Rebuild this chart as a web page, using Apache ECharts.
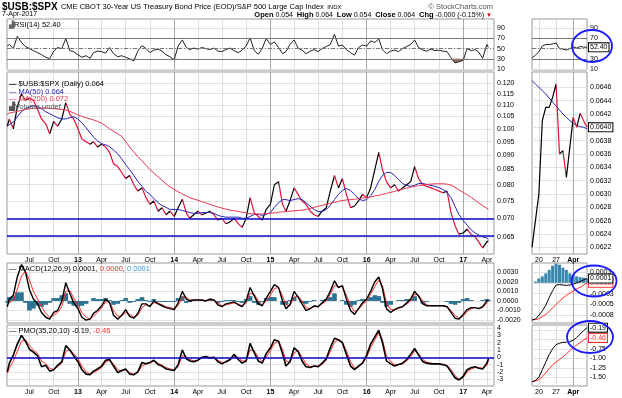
<!DOCTYPE html>
<html>
<head>
<meta charset="utf-8">
<title>$USB:$SPX</title>
<style>
  * { margin: 0; padding: 0; }
  body { background: #fff; }
  #main { width: 622px; height: 398px; }
</style>
</head>
<body>
<div id="main"></div>
<script src="https://cdn.jsdelivr.net/npm/echarts@6/dist/echarts.min.js"></script>
<script>
// sample dates: 1st and 16th of each month (Apr 2012 .. Apr 7 2017)
var dates = ['2012-04-08', '2012-04-16'];
for (var y = 2012; y <= 2017; y++) {
  for (var m = 1; m <= 12; m++) {
    if (y === 2012 && m < 5) continue;
    if (y === 2017 && m > 3) break;
    var mm = (m < 10 ? '0' : '') + m;
    dates.push(y + '-' + mm + '-01', y + '-' + mm + '-16');
  }
}
dates.push('2017-04-01', '2017-04-07');

// $USB:$SPX ratio
var price = [
  0.101, 0.104, 0.100, 0.109, 0.115, 0.112, 0.113, 0.112, 0.108, 0.104, 0.102, 0.098, 0.103, 0.101, 0.104, 0.111, 0.106, 0.104,
  0.100, 0.096, 0.095, 0.094, 0.095, 0.093, 0.094, 0.093, 0.091, 0.087, 0.086, 0.084, 0.082, 0.083, 0.080, 0.078, 0.079, 0.076, 0.074, 0.075, 0.072, 0.073, 0.071, 0.072,
  0.0705, 0.073, 0.0755, 0.0715, 0.070, 0.071, 0.072, 0.071, 0.0715, 0.072, 0.071, 0.0695, 0.070, 0.0685, 0.069, 0.070, 0.0685, 0.0675, 0.070, 0.076, 0.0715, 0.0705, 0.0695, 0.0725,
  0.074, 0.080, 0.081, 0.074, 0.072, 0.075, 0.079, 0.077, 0.075, 0.074, 0.072, 0.071, 0.0705, 0.072, 0.073, 0.078, 0.083, 0.079, 0.082, 0.077, 0.073, 0.0735, 0.075, 0.077,
  0.076, 0.079, 0.085, 0.091, 0.085, 0.081, 0.079, 0.080, 0.078, 0.079, 0.080, 0.081, 0.086, 0.082, 0.080, 0.0795, 0.079, 0.0785, 0.078, 0.0775, 0.078, 0.0715, 0.068, 0.0657,
  0.066, 0.067, 0.0655, 0.065, 0.0637, 0.0622, 0.0637, 0.0640
];
var ma50 = [
  0.1012, 0.1016, 0.1028, 0.1049, 0.1071, 0.1083, 0.1091, 0.1096, 0.1091, 0.1083, 0.1070, 0.1062, 0.1053, 0.1045, 0.1040, 0.1040, 0.1045, 0.1049,
  0.1040, 0.1024, 0.1004, 0.0984, 0.0968, 0.0953, 0.0942, 0.0938, 0.0931, 0.0919, 0.0905, 0.0887, 0.0867, 0.0850, 0.0830, 0.0811, 0.0795, 0.0779, 0.0770, 0.0757, 0.0745, 0.0736, 0.0731, 0.0725,
  0.0725, 0.0725, 0.0722, 0.0719, 0.0716, 0.0714, 0.0714, 0.0716, 0.0716, 0.0716, 0.0714, 0.0708, 0.0705, 0.0703, 0.0703, 0.0703, 0.0703, 0.0700, 0.0700, 0.0705, 0.0711, 0.0711, 0.0708, 0.0711,
  0.0716, 0.0731, 0.0745, 0.0754, 0.0754, 0.0751, 0.0754, 0.0757, 0.0754, 0.0745, 0.0734, 0.0725, 0.0719, 0.0719, 0.0725, 0.0737, 0.0754, 0.0770, 0.0782, 0.0788, 0.0782, 0.0770, 0.0757, 0.0751,
  0.0754, 0.0766, 0.0785, 0.0811, 0.0830, 0.0840, 0.0840, 0.0830, 0.0817, 0.0804, 0.0798, 0.0795, 0.0798, 0.0804, 0.0804, 0.0801, 0.0798, 0.0795, 0.0791, 0.0785, 0.0776, 0.0760, 0.0734, 0.0711,
  0.0694, 0.0681, 0.0668, 0.0660, 0.0655, 0.0650, 0.0647, 0.0644
];
var ma200 = [
  0.1060, 0.1065, 0.1068, 0.1072, 0.1076, 0.1080, 0.1083, 0.1085, 0.1086, 0.1087, 0.1086, 0.1085, 0.1084, 0.1082, 0.1080, 0.1078, 0.1072, 0.1065,
  0.1057, 0.1050, 0.1045, 0.1040, 0.1036, 0.1030, 0.1022, 0.1012, 0.1000, 0.0990, 0.0980, 0.0970, 0.0950, 0.0930, 0.0912, 0.0895, 0.0880, 0.0865, 0.0850, 0.0838, 0.0826, 0.0814, 0.0803, 0.0793,
  0.0785, 0.0778, 0.0771, 0.0765, 0.0760, 0.0756, 0.0752, 0.0748, 0.0744, 0.0740, 0.0736, 0.0732, 0.0729, 0.0726, 0.0723, 0.0721, 0.0719, 0.0717, 0.0715, 0.0713, 0.0712, 0.0712, 0.0712, 0.0713,
  0.0714, 0.0715, 0.0717, 0.0718, 0.0719, 0.0720, 0.0721, 0.0722, 0.0723, 0.0725, 0.0728, 0.0731, 0.0734, 0.0737, 0.0740, 0.0743, 0.0746, 0.0749, 0.0751, 0.0753, 0.0754, 0.0755, 0.0757, 0.0759,
  0.0760, 0.0762, 0.0765, 0.0767, 0.0770, 0.0773, 0.0776, 0.0779, 0.0783, 0.0786, 0.0789, 0.0792, 0.0795, 0.0797, 0.0799, 0.0801, 0.0802, 0.0803, 0.0803, 0.0803, 0.0802, 0.0799, 0.0792, 0.0784,
  0.0776, 0.0769, 0.0760, 0.0752, 0.0744, 0.0736, 0.0728, 0.0725
];
var rsi = [
  55, 58, 50, 74, 62, 54, 50, 46, 42, 38, 33, 30, 45, 52, 50, 70, 46, 44,
  38, 33, 36, 31, 42, 45, 44, 41, 52, 40, 34, 36, 33, 30, 26, 45, 56, 50, 42, 47, 49, 45, 38, 34,
  28, 55, 67, 52, 48, 51, 49, 52, 50, 48, 51, 45, 44, 48, 51, 46, 42, 47, 55, 71, 46, 39, 50, 70,
  58, 63, 52, 40, 44, 58, 67, 51, 47, 40, 45, 48, 44, 50, 54, 58, 78, 55, 57, 48, 42, 37, 52, 57,
  55, 65, 62, 69, 48, 40, 45, 47, 44, 50, 54, 58, 67, 52, 47, 45, 49, 46, 47, 45, 44, 32, 22, 24,
  27, 50, 46, 48, 43, 31, 58, 52.4
];
var macd = [
  -0.0006, 0.0002, 0.0006, 0.0025, 0.0038, 0.0030, 0.0012, 0.0002, -0.0003, -0.0012, -0.0017, -0.0019, -0.0012, -0.0010, 0.0000, 0.0019, 0.0008, -0.0002,
  -0.0008, -0.0017, -0.0020, -0.0019, -0.0013, -0.0010, -0.0005, 0.0002, -0.0002, -0.0015, -0.0019, -0.0015, -0.0009, -0.0016, -0.0018, -0.0013, -0.0003, -0.0003, -0.0006, 0.0000, -0.0003, -0.0005, -0.0007, -0.0008,
  -0.0009, -0.0002, 0.0010, 0.0002, 0.0000, 0.0001, 0.0001, 0.0001, 0.0000, 0.0002, 0.0001, -0.0004, -0.0006, -0.0003, -0.0002, -0.0001, -0.0004, -0.0006, 0.0000, 0.0014, 0.0005, -0.0003, -0.0005, 0.0003,
  0.0010, 0.0017, 0.0014, 0.0000, -0.0008, -0.0004, 0.0010, 0.0004, -0.0003, -0.0010, -0.0008, -0.0005, -0.0006, -0.0002, 0.0002, 0.0010, 0.0021, 0.0014, 0.0016, 0.0002, -0.0010, -0.0014, -0.0008, -0.0002,
  0.0002, 0.0010, 0.0020, 0.0025, 0.0013, -0.0008, -0.0012, -0.0009, -0.0007, -0.0006, -0.0002, 0.0002, 0.0010, 0.0005, -0.0003, -0.0005, -0.0005, -0.0005, -0.0005, -0.0005, -0.0006, -0.0012, -0.0018, -0.0019,
  -0.0014, -0.0009, -0.0007, -0.0007, -0.0008, -0.0006, 0.0000, 0.0001
];
var macdSignal = [
  -0.0004, -0.0002, 0.0001, 0.0012, 0.0026, 0.0031, 0.0022, 0.0010, 0.0002, -0.0006, -0.0013, -0.0017, -0.0015, -0.0012, -0.0006, 0.0010, 0.0011, 0.0003,
  -0.0004, -0.0012, -0.0017, -0.0019, -0.0016, -0.0012, -0.0007, -0.0001, -0.0001, -0.0010, -0.0016, -0.0016, -0.0012, -0.0014, -0.0017, -0.0015, -0.0007, -0.0004, -0.0005, -0.0002, -0.0002, -0.0004, -0.0006, -0.0007,
  -0.0008, -0.0005, 0.0004, 0.0004, 0.0001, 0.0001, 0.0001, 0.0001, 0.0000, 0.0001, 0.0001, -0.0002, -0.0005, -0.0004, -0.0003, -0.0002, -0.0003, -0.0005, -0.0002, 0.0008, 0.0007, 0.0000, -0.0004, 0.0000,
  0.0006, 0.0013, 0.0014, 0.0005, -0.0004, -0.0005, 0.0004, 0.0005, 0.0000, -0.0007, -0.0008, -0.0006, -0.0006, -0.0003, 0.0000, 0.0007, 0.0016, 0.0015, 0.0015, 0.0006, -0.0005, -0.0011, -0.0009, -0.0004,
  0.0000, 0.0007, 0.0015, 0.0022, 0.0016, -0.0002, -0.0009, -0.0009, -0.0008, -0.0006, -0.0003, 0.0000, 0.0007, 0.0006, 0.0000, -0.0004, -0.0005, -0.0005, -0.0005, -0.0005, -0.0006, -0.0010, -0.0015, -0.0018,
  -0.0016, -0.0011, -0.0008, -0.0007, -0.0008, -0.0007, -0.0002, 0.0000
];
var macdHist = [
  -0.0002, 0.0004, 0.0005, 0.0009, 0.0009, -0.0002, -0.0010, -0.0008, -0.0005, -0.0006, -0.0004, -0.0002, 0.0003, 0.0003, 0.0006, 0.0008, -0.0003, -0.0005,
  -0.0006, -0.0005, -0.0003, 0.0000, 0.0003, 0.0002, 0.0002, 0.0003, 0.0001, -0.0004, -0.0003, 0.0001, 0.0003, -0.0002, -0.0001, 0.0002, 0.0004, 0.0001, -0.0001, 0.0002, -0.0001, -0.0001, -0.0001, -0.0001,
  -0.0001, 0.0003, 0.0005, -0.0002, -0.0001, 0.0000, 0.0000, 0.0000, 0.0000, 0.0001, 0.0000, -0.0002, -0.0001, 0.0001, 0.0001, 0.0001, -0.0001, -0.0002, 0.0002, 0.0005, -0.0002, -0.0004, -0.0001, 0.0003,
  0.0004, 0.0004, 0.0000, -0.0004, -0.0004, 0.0001, 0.0004, 0.0000, -0.0002, -0.0003, -0.0001, 0.0001, 0.0000, 0.0001, 0.0002, 0.0004, 0.0008, 0.0000, 0.0001, -0.0004, -0.0006, -0.0004, 0.0001, 0.0002,
  0.0002, 0.0004, 0.0006, 0.0005, -0.0002, -0.0006, -0.0004, 0.0000, 0.0001, 0.0001, 0.0002, 0.0002, 0.0005, 0.0000, -0.0003, -0.0001, 0.0000, 0.0000, 0.0000, 0.0000, -0.0001, -0.0003, -0.0004, -0.0002,
  0.0002, 0.0003, 0.0001, 0.0000, 0.0000, 0.0001, 0.0002, 0.0001
];
var pmo = [
  -2.0, -0.8, 0.3, 1.8, 3.0, 2.2, 1.1, 0.7, 0.2, -1.3, -1.1, -1.9, -1.7, -1.1, -0.6, 1.6, 1.0, 0.2,
  -0.6, -1.7, -2.3, -2.4, -1.9, -1.6, -1.2, -0.4, -0.3, -1.2, -2.1, -1.8, -1.6, -2.3, -2.4, -2.0, -0.7, -0.9, -0.7, -0.4, -1.0, -1.2, -1.6, -1.7,
  -1.8, -1.0, 1.0, -0.2, -0.5, -0.6, -0.4, 0.0, 0.1, -0.1, 0.0, -0.6, -0.9, -0.6, -0.3, 0.4, -0.3, -0.8, -0.5, 1.9, 0.6, -0.5, -0.8, 0.5,
  1.3, 2.4, 2.2, 0.5, -1.2, -0.6, 1.3, 0.8, -0.5, -1.3, -1.4, -1.2, -1.3, -0.8, -0.2, 1.3, 2.6, 2.4, 2.0, 0.4, -1.2, -1.7, -1.2, -0.8,
  0.3, 1.8, 2.8, 3.7, 2.0, -0.5, -0.9, -1.2, -1.0, -0.8, -0.3, 0.4, 1.2, 0.3, -0.6, -0.8, -0.9, -0.9, -0.9, -1.0, -1.2, -2.0, -2.8, -3.1,
  -2.6, -1.7, -1.4, -1.3, -1.5, -1.6, -0.8, -0.19
];
var pmoSignal = [
  -2.2, -1.5, -0.5, 0.8, 2.2, 2.4, 1.6, 1.0, 0.5, -0.5, -0.9, -1.5, -1.7, -1.3, -0.8, 0.8, 1.1, 0.5,
  -0.2, -1.2, -2.0, -2.3, -2.1, -1.8, -1.4, -0.7, -0.4, -0.9, -1.7, -1.9, -1.7, -2.1, -2.3, -2.1, -1.2, -0.9, -0.8, -0.5, -0.8, -1.1, -1.4, -1.6,
  -1.7, -1.3, 0.2, 0.1, -0.3, -0.5, -0.4, -0.1, 0.0, 0.0, 0.0, -0.4, -0.7, -0.7, -0.4, 0.1, 0.0, -0.5, -0.5, 1.0, 0.9, 0.0, -0.6, 0.0,
  0.9, 1.9, 2.2, 1.1, -0.5, -0.7, 0.6, 0.9, 0.0, -0.9, -1.3, -1.2, -1.2, -1.0, -0.4, 0.8, 2.1, 2.4, 2.1, 0.9, -0.6, -1.5, -1.3, -0.9,
  0.0, 1.3, 2.4, 3.3, 2.4, 0.2, -0.6, -1.0, -1.0, -0.9, -0.5, 0.1, 0.9, 0.5, -0.3, -0.7, -0.8, -0.9, -0.9, -1.0, -1.1, -1.7, -2.5, -3.0,
  -2.8, -2.0, -1.6, -1.4, -1.4, -1.5, -1.1, -0.46
];

// last month, daily (right-hand panels)
var miniDates = ['3/16', '3/17', '3/20', '3/21', '3/22', '3/23', '3/24', '3/27', '3/28', '3/29', '3/30', '3/31', '4/3', '4/4', '4/5', '4/6', '4/7'];
var miniPrice = [0.0622, 0.0626, 0.0630, 0.0641, 0.0643, 0.0643, 0.06445, 0.06465, 0.0636, 0.06365, 0.06325, 0.0637, 0.06415, 0.0640, 0.06421, 0.0641, 0.0640];
var miniMa50 = [0.0647, 0.06465, 0.0646, 0.06455, 0.0645, 0.06444, 0.06438, 0.06432, 0.06426, 0.0642, 0.06415, 0.0641, 0.06406, 0.06403, 0.06401, 0.0640, 0.06398];
var miniRsi = [32, 37, 44, 55, 58, 58, 59, 61, 50, 49, 47, 50, 53, 51, 54, 53, 52.4];
var miniMacd = [-0.00086, -0.00084, -0.00075, -0.00065, -0.00052, -0.00034, -0.00018, -0.00005, -0.00004, -0.00005, -0.00006, -0.00005, -0.00003, 0.0, 0.00003, 0.00007, 0.0001];
var miniSignal = [-0.00086, -0.00085, -0.00083, -0.00078, -0.00073, -0.00066, -0.00058, -0.0005, -0.00042, -0.00035, -0.00029, -0.00024, -0.00019, -0.00014, -0.0001, -0.00005, 0.0];
var miniHist = [0.0, 0.00003, 0.0001, 0.00015, 0.00022, 0.0003, 0.0004, 0.00045, 0.00042, 0.00035, 0.0003, 0.00022, 0.00018, 0.00015, 0.00013, 0.00012, 0.0001];
var miniPmo = [-1.62, -1.58, -1.50, -1.30, -1.10, -0.90, -0.75, -0.64, -0.60, -0.58, -0.57, -0.56, -0.52, -0.45, -0.36, -0.27, -0.19];
var miniPmoSignal = [-1.62, -1.60, -1.56, -1.48, -1.38, -1.27, -1.17, -1.10, -1.03, -0.96, -0.88, -0.80, -0.72, -0.65, -0.58, -0.52, -0.46];

var priceTicks = [0.065, 0.070, 0.075, 0.080, 0.085, 0.090, 0.095, 0.100, 0.105, 0.110, 0.115, 0.120];
var miniPriceTicks = [0.0622, 0.0624, 0.0626, 0.0628, 0.0630, 0.0632, 0.0634, 0.0636, 0.0638, 0.0640, 0.0642, 0.0644, 0.0646];

var FONT = 'Liberation Sans, Arial, sans-serif';
var RED = '#e0103a';

function ts(s) {
  var p = s.split('-');
  return +new Date(+p[0], +p[1] - 1, +p[2]);
}
var times = dates.map(ts);
function zip(xs, vs, f) {
  return vs.map(function (v, i) { return [xs[i], f ? f(v) : v]; });
}
function downPieces(xs, vs) {
  var p = [];
  for (var i = 1; i < vs.length; i++) {
    if (vs[i] < vs[i - 1]) p.push({ gte: xs[i - 1], lte: xs[i], color: RED });
  }
  return p;
}

// quarterly ticks Jul 2012 .. Apr 2017
var qTicks = [];
for (var yy = 2012; yy <= 2017; yy++) {
  for (var mo = 0; mo < 12; mo += 3) {
    var t = +new Date(yy, mo, 1);
    if (t >= +new Date(2012, 6, 1) && t <= +new Date(2017, 3, 1)) qTicks.push(t);
  }
}

var chart = echarts.init(document.getElementById('main'));

var rows = [{ top: 19, h: 51 }, { top: 72, h: 182 }, { top: 263, h: 60 }, { top: 325, h: 61 }];
var grids = [];
rows.forEach(function (r) {
  grids.push({ left: 7, top: r.top, width: 487, height: r.h, show: true, borderColor: '#999', borderWidth: 1, backgroundColor: '#fff' });
});
rows.forEach(function (r) {
  grids.push({ left: 532, top: r.top, width: 55, height: r.h, show: true, borderColor: '#999', borderWidth: 1, backgroundColor: '#fff' });
});

function mainX(i, labels) {
  return {
    type: 'value', gridIndex: i,
    min: +new Date(2012, 3, 7), max: +new Date(2017, 3, 28),
    axisLine: { show: false },
    axisTick: { show: false, customValues: qTicks },
    axisLabel: {
      show: labels, customValues: qTicks, margin: 3, fontSize: 7, color: '#000', fontFamily: FONT,
      formatter: function (v) {
        var d = new Date(v);
        if (d.getMonth() === 0) return '{b|' + String(d.getFullYear()).slice(2) + '}';
        return { 3: 'Apr', 6: 'Jul', 9: 'Oct' }[d.getMonth()];
      },
      rich: { b: { fontWeight: 'bold', fontSize: 7, fontFamily: FONT } }
    },
    splitLine: { show: true, lineStyle: { color: ['#ddd', '#ddd', '#a8a8a8', '#ddd'], width: 1 } }
  };
}
function miniShow(idx) { return idx === 2 || idx === 7 || idx === 12; }
function miniX(i, labels) {
  return {
    type: 'category', gridIndex: i, data: miniDates, boundaryGap: false,
    axisLine: { show: false }, axisTick: { show: false },
    axisLabel: {
      show: labels, interval: miniShow, margin: 3, fontSize: 7, color: '#000', fontFamily: FONT,
      formatter: function (v, idx) {
        if (idx === 12) return '{b|Apr}';
        return v.split('/')[1];
      },
      rich: { b: { fontWeight: 'bold', fontSize: 7, fontFamily: FONT } }
    },
    splitLine: { show: true, interval: miniShow, lineStyle: { color: ['#ddd', '#ddd', '#a8a8a8'] } }
  };
}
function yAx(i, min, max, ticks, fmt) {
  return {
    type: 'value', gridIndex: i, position: 'right', min: min, max: max,
    axisLine: { show: false },
    axisTick: { show: false, customValues: ticks },
    axisLabel: { customValues: ticks, formatter: fmt, margin: 3, fontSize: 7, color: '#000', fontFamily: FONT },
    splitLine: { show: true, lineStyle: { color: '#e2e2e2', width: 1 } }
  };
}
function fmt4(v) {
  var a = Math.round(Math.abs(v) * 1e4 + 1e-9) / 1e4;
  return (v < -1e-12 ? '-' : '') + a.toFixed(4);
}
var rsiTicks = [10, 30, 50, 70, 90];
function rsiLines() {
  return {
    silent: true, symbol: 'none', label: { show: false }, animation: false,
    data: [
      { yAxis: 70, lineStyle: { color: '#777', type: 'solid', width: 1 } },
      { yAxis: 30, lineStyle: { color: '#777', type: 'solid', width: 1 } },
      { yAxis: 50, lineStyle: { color: '#777', type: [4, 2, 1, 2], width: 1 } }
    ]
  };
}
function endBox(text, color) {
  return {
    show: true, formatter: text, distance: 2, fontSize: 7, fontFamily: FONT, color: color,
    backgroundColor: '#fff', borderColor: color, borderWidth: 1, padding: [1, 1, 0, 1]
  };
}
var miniIdx = miniDates.map(function (d, i) { return i; });

var option = {
  animation: false,
  textStyle: { fontFamily: FONT },
  grid: grids,
  xAxis: [mainX(0, false), mainX(1, true), mainX(2, false), mainX(3, true),
          miniX(4, false), miniX(5, true), miniX(6, false), miniX(7, true)],
  yAxis: [
    yAx(0, 8, 108, rsiTicks, function (v) { return String(v); }),
    yAx(1, Math.log(0.0607), Math.log(0.1254), priceTicks.map(Math.log), function (v) { return Math.exp(v).toFixed(3); }),
    yAx(2, -0.0023, 0.00396, [-0.002, -0.001, 0, 0.001, 0.002, 0.003], fmt4),
    yAx(3, -3.93, 4.42, [-3, -2, -1, 0, 1, 2, 3, 4], function (v) { return String(v); }),
    yAx(4, 8, 108, rsiTicks, function (v) { return String(v); }),
    yAx(5, 0.0621, 0.06483, miniPriceTicks, function (v) { return v.toFixed(4); }),
    yAx(6, -0.00093, 0.00046, [-0.00075, -0.0005, -0.00025, 0, 0.00025], fmt4),
    yAx(7, -1.73, -0.12, [-1.5, -1.25, -1, -0.75, -0.5, -0.25], function (v) { return v.toFixed(2); })
  ],
  visualMap: [
    { type: 'piecewise', show: false, seriesIndex: 2, dimension: 0, pieces: downPieces(times, price), outOfRange: { color: '#000' } },
    { type: 'piecewise', show: false, seriesIndex: 11, dimension: 0, pieces: downPieces(miniIdx, miniPrice), outOfRange: { color: '#000' } }
  ],
  series: [
    // 0 RSI
    { type: 'line', xAxisIndex: 0, yAxisIndex: 0, data: zip(times, rsi), symbol: 'none', z: 3,
      lineStyle: { color: '#222', width: 1 }, markLine: rsiLines() },
    // 1 RSI oversold shading
    { type: 'line', xAxisIndex: 0, yAxisIndex: 0, data: zip(times, rsi, function (v) { return Math.min(v, 30); }),
      symbol: 'none', lineStyle: { width: 0 }, areaStyle: { origin: 30, color: '#9c5b4d', opacity: 0.9 } },
    // 2 price
    { type: 'line', xAxisIndex: 1, yAxisIndex: 1, data: zip(times, price, Math.log), symbol: 'none', z: 4,
      lineStyle: { width: 1.2 },
      markLine: { silent: true, symbol: 'none', label: { show: false }, animation: false,
        lineStyle: { color: '#0a0ac8', width: 1.5, type: 'solid' },
        data: [{ yAxis: Math.log(0.070) }, { yAxis: Math.log(0.065) }] } },
    // 3 MA50
    { type: 'line', xAxisIndex: 1, yAxisIndex: 1, data: zip(times, ma50, Math.log), symbol: 'none', z: 5,
      lineStyle: { color: '#2424b8', width: 1 } },
    // 4 MA200
    { type: 'line', xAxisIndex: 1, yAxisIndex: 1, data: zip(times, ma200, Math.log), symbol: 'none', z: 5,
      lineStyle: { color: '#e8364f', width: 1 } },
    // 5 MACD histogram
    { type: 'bar', xAxisIndex: 2, yAxisIndex: 2, data: zip(times, macdHist), barWidth: 4.6,
      itemStyle: { color: '#2c7394' } },
    // 6 MACD
    { type: 'line', xAxisIndex: 2, yAxisIndex: 2, data: zip(times, macd), symbol: 'none', z: 4,
      lineStyle: { color: '#000', width: 1.4 } },
    // 7 MACD signal
    { type: 'line', xAxisIndex: 2, yAxisIndex: 2, data: zip(times, macdSignal), symbol: 'none', z: 3,
      lineStyle: { color: '#ff2a2a', width: 1 } },
    // 8 PMO
    { type: 'line', xAxisIndex: 3, yAxisIndex: 3, data: zip(times, pmo), symbol: 'none', z: 4,
      lineStyle: { color: '#000', width: 1.6 },
      markLine: { silent: true, symbol: 'none', label: { show: false }, animation: false,
        lineStyle: { color: '#0a0ac8', width: 1.5, type: 'solid' }, data: [{ yAxis: 0 }] } },
    // 9 PMO signal
    { type: 'line', xAxisIndex: 3, yAxisIndex: 3, data: zip(times, pmoSignal), symbol: 'none', z: 3,
      lineStyle: { color: '#ff2a2a', width: 1 } },
    // 10 mini RSI
    { type: 'line', xAxisIndex: 4, yAxisIndex: 4, data: miniRsi, symbol: 'none', z: 4,
      lineStyle: { color: '#222', width: 1 }, markLine: rsiLines(), endLabel: endBox('52.40', '#000') },
    // 11 mini price
    { type: 'line', xAxisIndex: 5, yAxisIndex: 5, data: miniPrice, symbol: 'none', z: 4,
      lineStyle: { width: 1.2 }, endLabel: endBox('0.0640', '#000') },
    // 12 mini MA50
    { type: 'line', xAxisIndex: 5, yAxisIndex: 5, data: miniMa50, symbol: 'none', z: 3,
      lineStyle: { color: '#2424b8', width: 1 } },
    // 13 mini MACD histogram
    { type: 'bar', xAxisIndex: 6, yAxisIndex: 6, data: miniHist, barWidth: 3,
      itemStyle: { color: '#3a87ad' } },
    // 14 mini MACD
    { type: 'line', xAxisIndex: 6, yAxisIndex: 6, data: miniMacd, symbol: 'none', z: 5,
      lineStyle: { color: '#000', width: 1 }, endLabel: endBox('0.0001', '#000') },
    // 15 mini MACD signal
    { type: 'line', xAxisIndex: 6, yAxisIndex: 6, data: miniSignal, symbol: 'none', z: 4,
      lineStyle: { color: '#ff2a2a', width: 1 }, endLabel: endBox('0.0000', '#ff2a2a') },
    // 16 mini PMO
    { type: 'line', xAxisIndex: 7, yAxisIndex: 7, data: miniPmo, symbol: 'none', z: 5,
      lineStyle: { color: '#000', width: 1 }, endLabel: endBox('-0.19', '#000') },
    // 17 mini PMO signal
    { type: 'line', xAxisIndex: 7, yAxisIndex: 7, data: miniPmoSignal, symbol: 'none', z: 4,
      lineStyle: { color: '#ff2a2a', width: 1 }, endLabel: endBox('-0.46', '#ff2a2a') }
  ],
  graphic: [
    { type: 'text', left: 2, top: 1, z: 10, style: {
      text: '{t|$USB:$SPX} {n|CME CBOT 30-Year US Treasury Bond Price (EOD)/S&P 500 Large Cap Index} {s|INDX}',
      rich: {
        t: { fontSize: 10, fontWeight: 'bold', fontFamily: FONT, fill: '#000' },
        n: { fontSize: 7.5, fontFamily: FONT, fill: '#000' },
        s: { fontSize: 6, fontFamily: FONT, fill: '#000' }
      } } },
    { type: 'text', right: 129, top: 3, z: 10, style: { text: '© StockCharts.com', fontSize: 7.5, fontFamily: FONT, fill: '#555' } },
    { type: 'text', left: 2, top: 11, z: 10, style: { text: '7-Apr-2017', fontSize: 7, fontFamily: FONT, fill: '#000' } },
    { type: 'text', right: 130, top: 11, z: 10, style: {
      text: '{b|Open} 0.054  {b|High} 0.064  {b|Low} 0.054  {b|Close} 0.064  {b|Chg} -0.000 (-0.15%) {r|▼}',
      fontSize: 7, fontFamily: FONT, fill: '#000',
      rich: {
        b: { fontSize: 7.5, fontWeight: 'bold', fontFamily: FONT, fill: '#000' },
        r: { fontSize: 6, fontFamily: FONT, fill: '#c00' }
      } } },
    { type: 'text', left: 9, top: 21, z: 10, style: {
      text: '{i|▟}RSI(14) 52.40', fontSize: 7.5, fontFamily: FONT, fill: '#000',
      rich: { i: { fontSize: 7, fill: '#666' } } } },
    { type: 'text', left: 9, top: 80, z: 10, style: {
      text: '{k|—} $USB:$SPX (Daily) 0.064\n{bl|— MA(50) 0.064}\n{rd|— MA(200) 0.072}\n{g|▟Volume undef}',
      fontSize: 7.5, lineHeight: 7.5, fontFamily: FONT, fill: '#000',
      rich: {
        k: { fill: '#000', fontSize: 7.5, lineHeight: 7.5, fontWeight: 'bold' },
        bl: { fill: '#2424b8', fontSize: 7.5, lineHeight: 7.5 },
        rd: { fill: '#e8364f', fontSize: 7.5, lineHeight: 7.5 },
        g: { fill: '#555', fontSize: 7.5, lineHeight: 7.5 }
      } } },
    { type: 'text', left: 9, top: 265, z: 10, style: {
      text: '— MACD(12,26,9) 0.0001, {r|0.0000}, {c|0.0001}', fontSize: 7.5, fontFamily: FONT, fill: '#000',
      rich: { r: { fill: '#ff2a2a', fontSize: 7.5 }, c: { fill: '#3aa0d8', fontSize: 7.5 } } } },
    { type: 'text', left: 9, top: 327, z: 10, style: {
      text: '— PMO(35,20,10) -0.19, {r|-0.46}', fontSize: 7.5, fontFamily: FONT, fill: '#000',
      rich: { r: { fill: '#ff2a2a', fontSize: 7.5 } } } },
    { type: 'ellipse', z: 20, shape: { cx: 592, cy: 46, rx: 20, ry: 16 }, style: { fill: 'none', stroke: '#1a1aff', lineWidth: 1.8 } },
    { type: 'ellipse', z: 20, shape: { cx: 594, cy: 281, rx: 22.5, ry: 15.5 }, style: { fill: 'none', stroke: '#1a1aff', lineWidth: 1.8 } },
    { type: 'ellipse', z: 20, shape: { cx: 590, cy: 337, rx: 23, ry: 16 }, style: { fill: 'none', stroke: '#1a1aff', lineWidth: 1.8 } }
  ]
};
chart.setOption(option);
</script>
</body>
</html>
